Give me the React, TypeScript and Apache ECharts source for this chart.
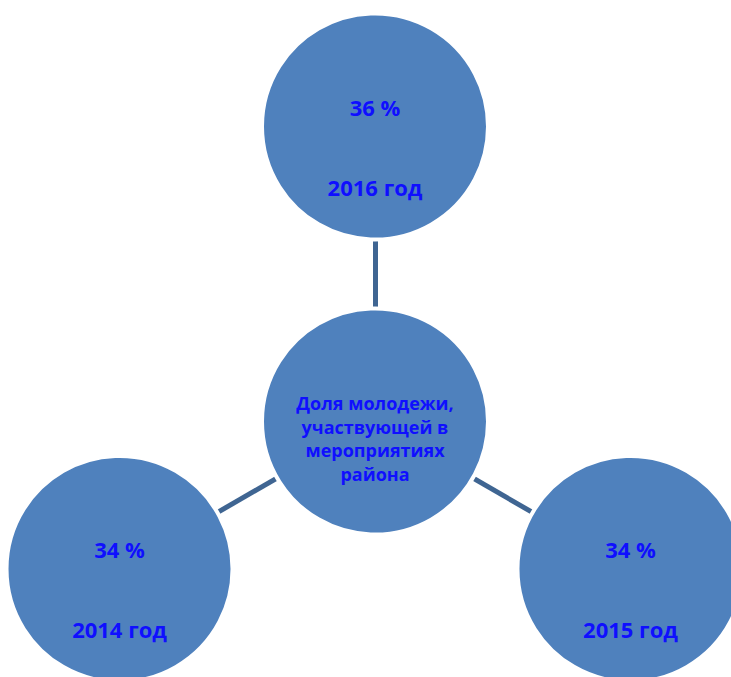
import React, { useEffect, useRef } from "react";
import * as echarts from "echarts";

const centerTitle = ["Доля молодежи,", "участвующей в", "мероприятиях", "района"];
const years = ["2014 год", "2015 год", "2016 год"];
const shares = [34, 34, 36];
const anglesDeg = [210, 330, 90];

const W = 731;
const H = 677;
const CX = 375;
const CY = 421.5;
const RING = 295;

const FILL = "#4F81BD";
const LINE = "#3F6592";
const TEXT = "#0F0FFF";
const FONT = "'Open Sans', 'Noto Sans', sans-serif";

export default function App() {
  const ref = useRef<HTMLDivElement>(null);
  useEffect(() => {
    document.body.style.margin = "0";
    if (!ref.current) return;
    const chart = echarts.init(ref.current, undefined, { renderer: "svg" });

    const nodes: any[] = [
      {
        name: "center",
        value: [CX, CY],
        label: {
          show: true,
          position: "inside",
          offset: [0, 17],
          formatter: centerTitle.join("\n"),
          color: TEXT,
          fontFamily: FONT,
          fontWeight: "bold",
          fontSize: 18,
          lineHeight: 23.5,
          align: "center",
        },
      },
    ];
    years.forEach((y, i) => {
      const a = (anglesDeg[i] * Math.PI) / 180;
      nodes.push({
        name: y,
        value: [CX + RING * Math.cos(a), CY - RING * Math.sin(a)],
        label: {
          show: true,
          position: "inside",
          offset: [0, 20],
          formatter: `{p|${shares[i]} %}\n{y|${y}}`,
          rich: {
            p: { color: TEXT, fontFamily: FONT, fontWeight: "bold", fontSize: 22, lineHeight: 80, align: "center" },
            y: { color: TEXT, fontFamily: FONT, fontWeight: "bold", fontSize: 22, lineHeight: 80, align: "center" },
          },
        },
      });
    });
    const links = years.map((_, i) => ({ source: 0, target: i + 1 }));

    chart.setOption({
      animation: false,
      backgroundColor: "#ffffff",
      grid: { left: 0, right: 0, top: 0, bottom: 0 },
      xAxis: { type: "value", min: 0, max: W, show: false },
      yAxis: { type: "value", min: 0, max: H, inverse: true, show: false },
      series: [
        {
          type: "graph",
          coordinateSystem: "cartesian2d",
          layout: "none",
          symbol: "circle",
          symbolSize: 226,
          itemStyle: { color: FILL, borderColor: "#ffffff", borderWidth: 4 },
          lineStyle: { color: LINE, width: 5, opacity: 1, curveness: 0 },
          emphasis: { disabled: true },
          data: nodes,
          links,
        },
      ],
    });
    return () => chart.dispose();
  }, []);
  return <div ref={ref} style={{ width: W, height: H }} />;
}
